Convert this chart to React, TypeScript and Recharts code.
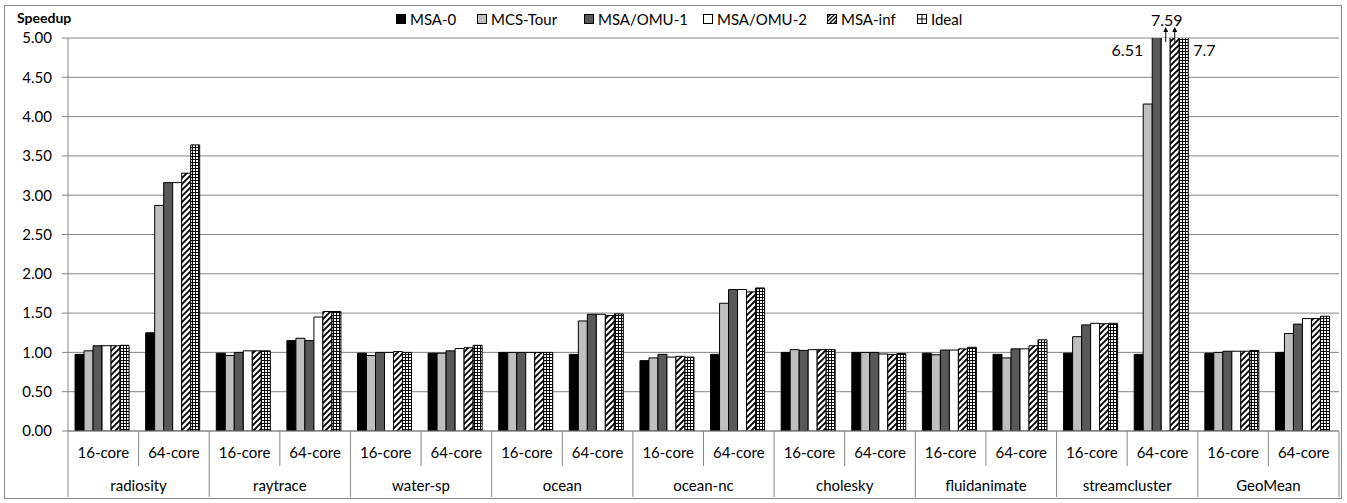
import { BarChart, Bar, XAxis, YAxis, CartesianGrid, LabelList } from 'recharts'

const BENCHMARKS = ['radiosity', 'raytrace', 'water-sp', 'ocean', 'ocean-nc', 'cholesky', 'fluidanimate', 'streamcluster', 'GeoMean']
const CORES = ['16-core', '64-core']

// one value per (benchmark, core) pair, 16-core first
const MSA_0 = [0.975, 1.25, 0.99, 1.15, 0.99, 0.99, 1.0, 0.975, 0.895, 0.975, 1.0, 1.0, 0.99, 0.975, 0.99, 0.975, 0.99, 1.0]
const MCS_TOUR = [1.02, 2.87, 0.96, 1.18, 0.96, 0.99, 1.0, 1.4, 0.93, 1.625, 1.035, 1.0, 0.97, 0.93, 1.2, 4.16, 1.0, 1.24]
const MSA_OMU_1 = [1.085, 3.16, 1.0, 1.15, 1.0, 1.02, 1.0, 1.485, 0.975, 1.8, 1.025, 1.0, 1.03, 1.045, 1.35, 6.51, 1.015, 1.36]
const MSA_OMU_2 = [1.085, 3.16, 1.02, 1.45, 1.0, 1.05, 1.0, 1.485, 0.94, 1.8, 1.035, 0.98, 1.03, 1.045, 1.37, 7.59, 1.015, 1.43]
const MSA_INF = [1.085, 3.28, 1.02, 1.52, 1.01, 1.06, 1.0, 1.47, 0.95, 1.77, 1.035, 0.975, 1.045, 1.085, 1.365, 7.59, 1.015, 1.43]
const IDEAL = [1.09, 3.64, 1.02, 1.52, 1.0, 1.09, 1.0, 1.49, 0.94, 1.82, 1.035, 0.985, 1.065, 1.16, 1.37, 7.7, 1.025, 1.46]

const Y_TICKS = [0, 0.5, 1, 1.5, 2, 2.5, 3, 3.5, 4, 4.5, 5]
const Y_MAX = 5

const data = BENCHMARKS.flatMap((bench, bi) =>
  CORES.map((core, ci) => {
    const i = bi * 2 + ci
    return {
      bench,
      core,
      msa0: MSA_0[i],
      mcs: MCS_TOUR[i],
      omu1: MSA_OMU_1[i],
      omu2: MSA_OMU_2[i],
      inf: MSA_INF[i],
      ideal: IDEAL[i],
    }
  })
)

const SERIES = [
  { key: 'msa0', name: 'MSA-0', fill: '#000000', label: '' },
  { key: 'mcs', name: 'MCS-Tour', fill: '#bfbfbf', label: '' },
  { key: 'omu1', name: 'MSA/OMU-1', fill: '#595959', label: 'left' },
  { key: 'omu2', name: 'MSA/OMU-2', fill: '#ffffff', label: 'top' },
  { key: 'inf', name: 'MSA-inf', fill: 'url(#hatch)', label: 'arrow' },
  { key: 'ideal', name: 'Ideal', fill: 'url(#grid)', label: 'right' },
]

const FONT = 'Lato, "Open Sans", sans-serif'
const FS = 15
const W = 1347
const H = 503
const PLOT_LEFT = 68
const PLOT_RIGHT = 1339
const PLOT_TOP = 38
const AXIS_Y = 431
const BAND = (PLOT_RIGHT - PLOT_LEFT) / data.length
const AXIS_GRAY = '#868686'
const LEGEND_X = [396, 477, 584, 703, 827, 917]

function CoreTick(props: any) {
  const { x, payload, index } = props
  const left = x - BAND / 2
  const first = index % 2 === 0
  return (
    <g>
      <line x1={left} x2={left} y1={AXIS_Y} y2={first ? 497 : 466} stroke={AXIS_GRAY} />
      {index === data.length - 1 && (
        <line x1={x + BAND / 2} x2={x + BAND / 2} y1={AXIS_Y} y2={497} stroke={AXIS_GRAY} />
      )}
      <text x={x} y={458} textAnchor="middle" fontSize={FS} fill="#000" fontFamily={FONT}>
        {payload.value}
      </text>
      {first && (
        <text x={x + BAND / 2} y={491} textAnchor="middle" fontSize={FS} fill="#000" fontFamily={FONT}>
          {BENCHMARKS[Math.floor(index / 2)]}
        </text>
      )}
    </g>
  )
}

function Arrow({ cx }: { cx: number }) {
  return (
    <g>
      <line x1={cx} x2={cx} y1={PLOT_TOP + 4} y2={PLOT_TOP - 8} stroke="#000" strokeWidth={1} />
      <polygon points={`${cx - 2.5},${PLOT_TOP - 6} ${cx},${PLOT_TOP - 11} ${cx + 2.5},${PLOT_TOP - 6}`} fill="#000" />
    </g>
  )
}

// values above the axis max get a text marker near the clipped top
const overflowLabel = (mode: string) => (props: any) => {
  const x = Number(props.x)
  const width = Number(props.width)
  const value = Number(props.value)
  if (!(value > Y_MAX)) return null
  const cx = x + width / 2
  const txt = { fontSize: 16, fill: '#000', fontFamily: FONT }
  if (mode === 'left')
    return <text x={x - 9} y={PLOT_TOP + 18} textAnchor="end" {...txt}>{value}</text>
  if (mode === 'right')
    return <text x={x + width + 5} y={PLOT_TOP + 18} textAnchor="start" {...txt}>{value}</text>
  if (mode === 'top')
    return (
      <g>
        <text x={cx + 1} y={PLOT_TOP - 12} textAnchor="middle" {...txt}>{value}</text>
        <Arrow cx={cx} />
      </g>
    )
  return <Arrow cx={cx} />
}

function Swatch({ idx }: { idx: number }) {
  const s = SERIES[idx]
  return (
    <svg width={10} height={10} style={{ display: 'block' }}>
      <defs>
        <pattern id={`lg-hatch`} patternUnits="userSpaceOnUse" width="4" height="4">
          <rect width="4" height="4" fill="#fff" />
          <path d="M-1,1 l2,-2 M0,4 l4,-4 M3,5 l2,-2" stroke="#000" strokeWidth="1.3" />
        </pattern>
      </defs>
      {s.key === 'ideal' ? (
        <g>
          <rect x={0.5} y={0.5} width={9} height={9} fill="#fff" stroke="#000" />
          <rect x={0} y={4.5} width={10} height={1} fill="#000" />
          <rect x={4.5} y={0} width={1} height={10} fill="#000" />
        </g>
      ) : (
        <rect
          x={0.5}
          y={0.5}
          width={9}
          height={9}
          fill={s.key === 'inf' ? 'url(#lg-hatch)' : s.fill}
          stroke="#000"
        />
      )}
    </svg>
  )
}

export default function App() {
  return (
    <div style={{ position: 'absolute', left: 0, top: 0, width: W, height: H, background: '#fff', fontFamily: FONT }}>
      <div
        style={{
          position: 'absolute',
          left: 4,
          top: 5,
          width: 1338,
          height: 494,
          border: `1px solid ${AXIS_GRAY}`,
          boxSizing: 'border-box',
        }}
      />
      <div style={{ position: 'absolute', left: 17, top: 9, fontSize: 14, fontWeight: 700, color: '#000' }}>Speedup</div>
      {SERIES.map((s, i) => (
        <div
          key={s.key}
          style={{
            position: 'absolute',
            left: LEGEND_X[i],
            top: 10,
            display: 'flex',
            alignItems: 'center',
            gap: 4,
            fontSize: FS,
            color: '#000',
            whiteSpace: 'nowrap',
          }}
        >
          <Swatch idx={i} />
          <span>{s.name}</span>
        </div>
      ))}
      <BarChart
        width={W}
        height={H}
        data={data}
        margin={{ top: PLOT_TOP, right: W - PLOT_RIGHT, left: 0, bottom: 0 }}
        barCategoryGap="10%"
        barGap={0}
        style={{ position: 'absolute', left: 0, top: 0 }}
      >
        <defs>
          <pattern id="hatch" patternUnits="userSpaceOnUse" width="6" height="6">
            <rect width="6" height="6" fill="#fff" />
            <path d="M-1,1 l2,-2 M0,6 l6,-6 M5,7 l2,-2" stroke="#000" strokeWidth="1.9" />
          </pattern>
          <pattern id="grid" patternUnits="userSpaceOnUse" width="3" height="3">
            <rect width="3" height="3" fill="#fff" />
            <rect width="3" height="1" fill="#000" />
            <rect width="1" height="3" fill="#000" />
          </pattern>
        </defs>
        <CartesianGrid vertical={false} stroke={AXIS_GRAY} />
        <XAxis
          dataKey="core"
          interval={0}
          height={H - AXIS_Y}
          tickLine={false}
          axisLine={{ stroke: AXIS_GRAY }}
          tick={<CoreTick />}
        />
        <YAxis
          width={PLOT_LEFT}
          domain={[0, Y_MAX]}
          allowDataOverflow
          ticks={Y_TICKS}
          interval={0}
          tickFormatter={(v: number) => v.toFixed(2)}
          tickSize={6}
          tickMargin={10}
          axisLine={{ stroke: AXIS_GRAY }}
          tickLine={{ stroke: AXIS_GRAY }}
          tick={{ fontSize: FS, fill: '#000', fontFamily: FONT }}
        />
        {SERIES.map((s) => (
          <Bar key={s.key} dataKey={s.key} name={s.name} fill={s.fill} stroke="#000" strokeWidth={1} isAnimationActive={false}>
            {s.label && <LabelList dataKey={s.key} content={overflowLabel(s.label)} />}
          </Bar>
        ))}
      </BarChart>
    </div>
  )
}
